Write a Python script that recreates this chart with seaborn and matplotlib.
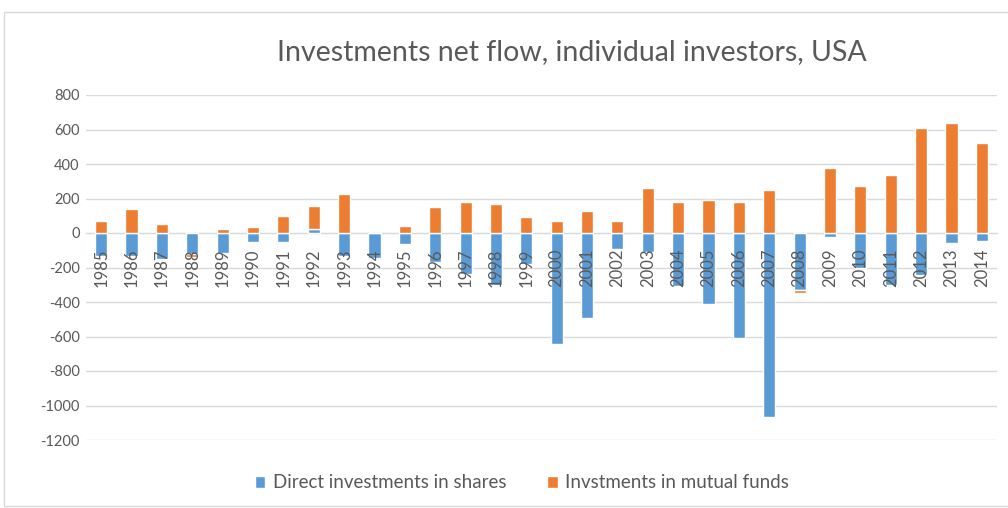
import numpy as np
import pandas as pd
import matplotlib
matplotlib.use("Agg")
import matplotlib.pyplot as plt
from matplotlib.patches import Rectangle
import seaborn as sns

# values (billions USD)
years = [str(y) for y in range(1985, 2015)]
direct_shares = [-135, -135, -150, -124, -118, -50, -50, 23, -135, -147,
                 -66, -170, -235, -300, -180, -645, -490, -90, -110, -305,
                 -413, -606, -1066, -331, -21, -205, -302, -244, -60, -47]
mutual_funds = [70, 141, 50, -14, 23, 33, 101, 136, 227, 0,
                43, 149, 178, 170, 91, 70, 130, 70, 258, 178,
                190, 178, 248, -15, 374, 275, 335, 609, 638, 521]
y_ticks = list(range(-1200, 801, 200))

BLUE = "#5B9BD5"
ORANGE = "#ED7D31"
GREY_TXT = "#595959"
GRID = "#D9D9D9"

sns.set_style("white")
plt.rcParams["font.family"] = ["Lato", "DejaVu Sans"]

df = pd.DataFrame({"year": years, "direct": direct_shares, "funds": mutual_funds})
# Excel-style stacking: positives stack up from 0, negatives stack down from 0
d = df["direct"].to_numpy()
f = df["funds"].to_numpy()
funds_bottom = np.where(f >= 0, np.maximum(d, 0), np.minimum(d, 0))

fig = plt.figure(figsize=(10.08, 5.08), dpi=100)
ax = fig.add_axes([86 / 1008, 1 - 440 / 508, (997 - 86) / 1008, 345 / 508])

sns.barplot(data=df, x="year", y="direct", order=years, color=BLUE, width=0.4,
            errorbar=None, saturation=1, label="Direct investments in shares", ax=ax)
sns.barplot(data=df, x="year", y="funds", order=years, color=ORANGE, width=0.4,
            errorbar=None, saturation=1, bottom=funds_bottom,
            label="Invstments in mutual funds", ax=ax)
if ax.get_legend() is not None:
    ax.get_legend().remove()

ax.set_ylim(-1200, 800)
ax.set_xlim(-0.5, len(years) - 0.5)
ax.set_yticks(y_ticks)
ax.set_yticklabels([str(v) for v in y_ticks])
ax.yaxis.grid(True, color=GRID, linewidth=1)
ax.set_axisbelow(True)
ax.xaxis.set_zorder(3)  # year labels sit on top of the bars, as in Excel
ax.set_xlabel("")
ax.set_ylabel("")

for side in ["top", "right", "left"]:
    ax.spines[side].set_visible(False)
ax.spines["bottom"].set_position(("data", 0))
ax.spines["bottom"].set_color(GRID)
ax.spines["bottom"].set_zorder(0.5)

ax.tick_params(axis="y", length=0, pad=4.5, labelsize=10.5, labelcolor=GREY_TXT)
ax.tick_params(axis="x", length=0, pad=11, labelsize=12, labelcolor=GREY_TXT,
               labelrotation=90)

fig.text(572 / 1008, 1 - 52 / 508, "Investments net flow, individual investors, USA",
         ha="center", va="center", fontsize=20.5, color=GREY_TXT)

handles, labels = ax.get_legend_handles_labels()
fig.legend(handles, labels, loc="center", bbox_to_anchor=(522 / 1008, 1 - 483 / 508),
           ncol=2, frameon=False, fontsize=13.5, labelcolor=GREY_TXT,
           handlelength=0.55, handleheight=0.55, handletextpad=0.4, columnspacing=2.2)

fig.patches.append(Rectangle((4 / 1008, 1 - 506 / 508), 1.1, (506 - 12) / 508,
                             transform=fig.transFigure, fill=False,
                             edgecolor=GRID, linewidth=1))

fig.savefig("out.png", dpi=100)
